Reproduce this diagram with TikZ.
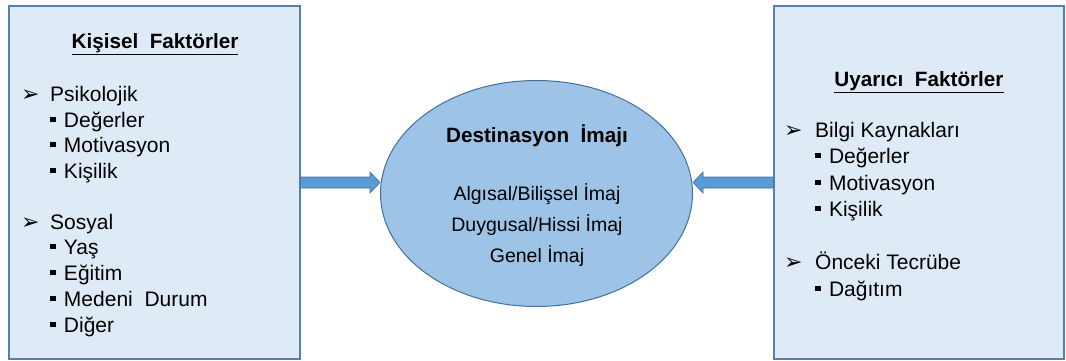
\documentclass[tikz,border=0pt]{standalone}
\usepackage{fontspec}
\setmainfont{Liberation Sans}
\newfontfamily\dejavu{DejaVu Sans}
\usetikzlibrary{calc,shapes.geometric}

\definecolor{boxfill}{RGB}{222,235,247}
\definecolor{boxline}{RGB}{84,128,176}
\definecolor{ellfill}{RGB}{157,195,230}
\definecolor{ellline}{RGB}{65,113,156}
\definecolor{arrfill}{RGB}{91,155,213}
\definecolor{arrline}{RGB}{65,113,156}

% bullets used in the lists
\newcommand{\arrbul}{{\dejavu\fontsize{22}{22}\selectfont ➢}}
\newcommand{\sqbul}{\raisebox{4.6pt}{\rule{5.8pt}{5.8pt}}}

\tikzset{
  factorbox/.style={draw=boxline, line width=1.3pt, fill=boxfill},
  imagebubble/.style={ellipse, draw=ellline, line width=1pt, fill=ellfill,
    minimum width=312pt, minimum height=226pt, inner sep=0pt},
  title/.style={anchor=base, font=\fontsize{20.7}{24}\selectfont\bfseries, inner sep=0pt},
  item/.style={anchor=base west, font=\fontsize{21}{24}\selectfont, inner sep=0pt},
  center line/.style={anchor=base, font=\fontsize{19.5}{24}\selectfont, inner sep=0pt},
  barrow/.style={fill=arrfill, draw=arrline, line width=0.6pt, line join=miter},
}

% block arrow from #1 to tip #2, pointing along x (sign #3 = +1 right, -1 left)
\newcommand{\blockarrow}[3]{%
  \draw[barrow] ($(#1)+(0,5.5)$) -- ($(#2)+({-#3*10},5.5)$) -- ($(#2)+({-#3*10},10.5)$)
    -- (#2) -- ($(#2)+({-#3*10},-10.5)$) -- ($(#2)+({-#3*10},-5.5)$)
    -- ($(#1)+(0,-5.5)$) -- cycle;}

\begin{document}
\begin{tikzpicture}[x=1pt, y=-1pt]
\useasboundingbox (0,0) rectangle (1066,361);

% side boxes
\node[factorbox, minimum width=291pt, minimum height=353pt, inner sep=0pt] (lbox) at (154.5,182.5) {};
\node[factorbox, minimum width=290pt, minimum height=353pt, inner sep=0pt] (rbox) at (919,182.5) {};

% central image bubble
\node[imagebubble] (ell) at (536.5,193.5) {};

% arrows into the bubble
\coordinate (ltip) at (ell.west |- lbox.east);
\coordinate (rtip) at (ell.east |- rbox.west);
\blockarrow{lbox.east}{ltip}{1}
\blockarrow{rbox.west}{rtip}{-1}

% left box: personal factors
\node[title] (lt) at (155,49) {\underline{Kişisel\ \ Faktörler}};
\node[item] (lb1) at (21,101) {\arrbul};
\node[item] (l1) at (50,101) {Psikolojik};
\node[item] (l11) at (50,127) {\sqbul\hspace{8pt}Değerler};
\node[item] (l12) at (50,152) {\sqbul\hspace{8pt}Motivasyon};
\node[item] (l13) at (50,178) {\sqbul\hspace{8pt}Kişilik};
\node[item] (lb2) at (21,229) {\arrbul};
\node[item] (l2) at (50,229) {Sosyal};
\node[item] (l21) at (50,254) {\sqbul\hspace{8pt}Yaş};
\node[item] (l22) at (50,280) {\sqbul\hspace{8pt}Eğitim};
\node[item] (l23) at (50,306) {\sqbul\hspace{8pt}Medeni\ \ Durum};
\node[item] (l24) at (50,332) {\sqbul\hspace{8pt}Diğer};

% centre text
\node[title] (ct) at (537,142) {Destinasyon\ \ İmajı};
\node[center line] (c1) at (537,200) {Algısal/Bilişsel İmaj};
\node[center line] (c2) at (537,231) {Duygusal/Hissi İmaj};
\node[center line] (c3) at (537,262) {Genel İmaj};

% right box: stimulus factors
\node[title] (rt) at (919,87) {\underline{Uyarıcı\ \ Faktörler}};
\node[item] (rb1) at (784,137) {\arrbul};
\node[item] (r1) at (815,137) {Bilgi Kaynakları};
\node[item] (r11) at (815,163) {\sqbul\hspace{8pt}Değerler};
\node[item] (r12) at (815,190) {\sqbul\hspace{8pt}Motivasyon};
\node[item] (r13) at (815,216) {\sqbul\hspace{8pt}Kişilik};
\node[item] (rb2) at (784,269) {\arrbul};
\node[item] (r2) at (815,269) {Önceki Tecrübe};
\node[item] (r21) at (815,296) {\sqbul\hspace{8pt}Dağıtım};
\end{tikzpicture}
\end{document}
